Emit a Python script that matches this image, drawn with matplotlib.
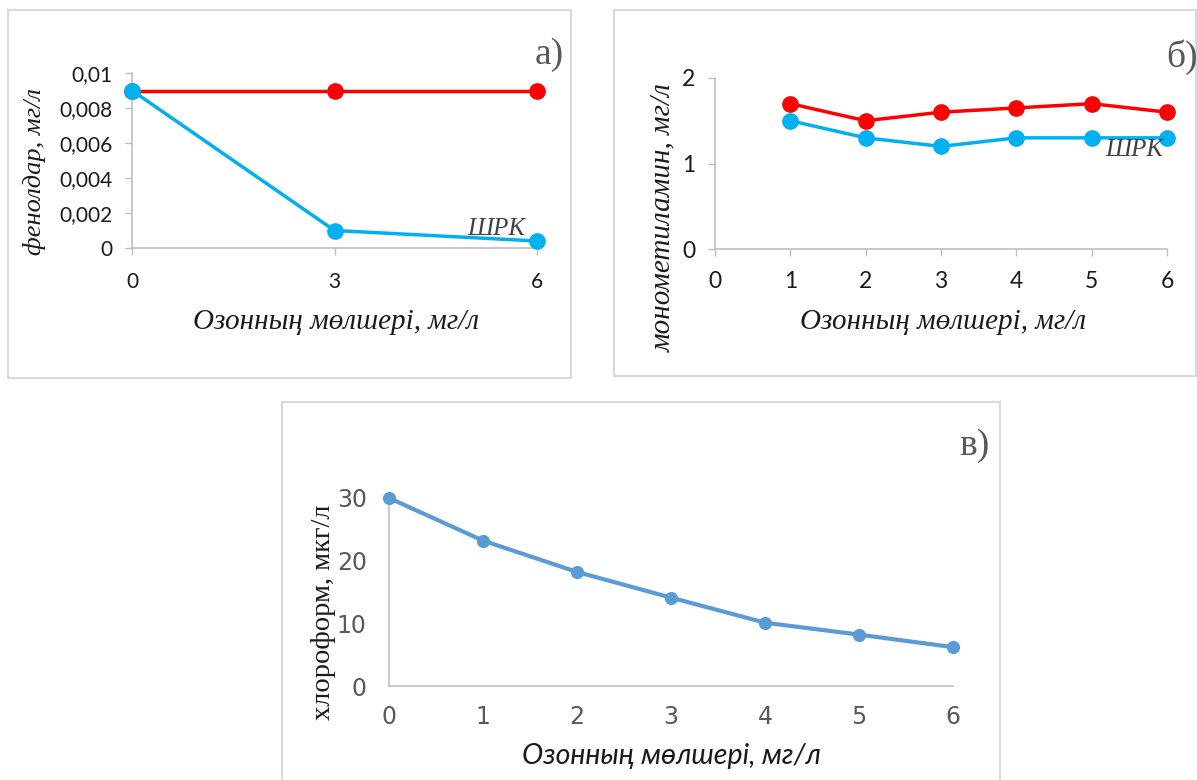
import matplotlib
matplotlib.use("Agg")
import matplotlib.pyplot as plt
from matplotlib.patches import Rectangle

W, H = 1197, 780

# panel a) - phenols
x_a = [0, 3, 6]
shrk_a = [0.009, 0.009, 0.009]
phenol = [0.009, 0.001, 0.0004]
yticks_a = [0, 0.002, 0.004, 0.006, 0.008, 0.01]
ylabels_a = ["0", "0,002", "0,004", "0,006", "0,008", "0,01"]

# panel б) - monomethylamine
x_b = [1, 2, 3, 4, 5, 6]
shrk_b = [1.7, 1.5, 1.6, 1.65, 1.7, 1.6]
mma = [1.5, 1.3, 1.2, 1.3, 1.3, 1.3]

# panel в) - chloroform
x_c = [0, 1, 2, 3, 4, 5, 6]
chloroform = [30, 23.2, 18.2, 14.1, 10.1, 8.2, 6.2]

RED = "#FF0000"
BLUE = "#00B0F0"
STEEL = "#5B9BD5"
AXIS = "#BFBFBF"
FRAME = "#D9D9D9"
SERIF = ["Liberation Serif", "DejaVu Serif"]
SANS = ["Lato", "DejaVu Sans"]


def fx(px):
    return px / W


def fy(py):
    return 1 - py / H


def box(left, top, right, bottom):
    return [fx(left), fy(bottom), fx(right) - fx(left), fy(top) - fy(bottom)]


def style(ax, color, size):
    for s in ["top", "right"]:
        ax.spines[s].set_visible(False)
    for s in ["left", "bottom"]:
        ax.spines[s].set_color(AXIS)
        ax.spines[s].set_linewidth(1.2)
    ax.tick_params(colors=AXIS, labelcolor=color, length=5, width=1.0)
    for t in ax.get_xticklabels() + ax.get_yticklabels():
        t.set_family(SANS)
        t.set_fontsize(size)
    ax.patch.set_alpha(0)


fig = plt.figure(figsize=(W / 100, H / 100), dpi=100)

# frames
for l, t, r, b in [(8, 10, 571, 378), (614, 10, 1196, 376), (282, 402, 1000, 782)]:
    fig.patches.append(Rectangle((fx(l), fy(b)), fx(r) - fx(l), fy(t) - fy(b),
                                 transform=fig.transFigure, fill=False,
                                 edgecolor=FRAME, linewidth=1.5))

# a)
ax = fig.add_axes(box(132, 73, 537, 248))
ax.plot(x_a, shrk_a, color=RED, lw=2.5, marker="o", ms=11, clip_on=False, zorder=3)
ax.plot(x_a, phenol, color=BLUE, lw=2.5, marker="o", ms=11, clip_on=False, zorder=4)
ax.set_xlim(0, 6)
ax.set_ylim(0, 0.01)
ax.set_xticks([0, 3, 6])
ax.set_yticks(yticks_a)
ax.set_yticklabels(ylabels_a)
style(ax, "#1A1A1A", 15)
ax.tick_params(axis="x", pad=12)
ax.tick_params(axis="y", pad=9)
fig.text(fx(496), fy(229), "ШРК", family=SERIF, style="italic", fontsize=18,
         color="#404040", ha="center", va="center")
fig.text(fx(549), fy(55), "а)", family=SERIF, fontsize=27, color="#595959",
         ha="center", va="center")
fig.text(fx(35), fy(172), "фенолдар, мг/л", family=SERIF, style="italic",
         fontsize=19, rotation=90, ha="center", va="center", color="#1A1A1A")
fig.text(fx(336), fy(322), "Озонның мөлшері, мг/л", family=SERIF, style="italic",
         fontsize=21, ha="center", va="center", color="#1A1A1A")

# б)
ax = fig.add_axes(box(715, 78, 1167, 249))
ax.plot(x_b, shrk_b, color=RED, lw=2.5, marker="o", ms=11, clip_on=False, zorder=3)
ax.plot(x_b, mma, color=BLUE, lw=2.5, marker="o", ms=11, clip_on=False, zorder=4)
ax.set_xlim(0, 6)
ax.set_ylim(0, 2)
ax.set_xticks(range(7))
ax.set_yticks([0, 1, 2])
style(ax, "#1A1A1A", 16.5)
ax.tick_params(axis="x", pad=11)
ax.tick_params(axis="y", pad=9)
fig.text(fx(1134), fy(150), "ШРК", family=SERIF, style="italic", fontsize=18,
         color="#404040", ha="center", va="center")
fig.text(fx(1182), fy(57), "б)", family=SERIF, fontsize=27, color="#595959",
         ha="center", va="center")
fig.text(fx(663), fy(218), "монометиламин, мг/л", family=SERIF, style="italic",
         fontsize=21, rotation=90, ha="center", va="center", color="#1A1A1A")
fig.text(fx(943), fy(322), "Озонның мөлшері, мг/л", family=SERIF, style="italic",
         fontsize=21, ha="center", va="center", color="#1A1A1A")

# в)
ax = fig.add_axes(box(389, 498, 953, 686))
ax.plot(x_c, chloroform, color=STEEL, lw=3, marker="o", ms=8.5, clip_on=False, zorder=3)
ax.set_xlim(0, 6)
ax.set_ylim(0, 30)
ax.set_xticks(x_c)
ax.set_yticks([0, 10, 20, 30])
style(ax, "#595959", 17)
ax.tick_params(length=0)
ax.tick_params(axis="x", pad=14)
ax.tick_params(axis="y", pad=16)
for t in ax.get_xticklabels() + ax.get_yticklabels():
    t.set_family(["Liberation Sans Narrow", "DejaVu Sans"])
fig.text(fx(974), fy(446), "в)", family=SERIF, fontsize=27, color="#595959",
         ha="center", va="center")
fig.text(fx(324), fy(612), "хлороформ, мкг/л", family=SERIF,
         fontsize=20.5, rotation=90, ha="center", va="center", color="#1A1A1A")
fig.text(fx(671), fy(756), "Озонның мөлшері, мг/л", family=SANS,
         style="italic", fontsize=20.5, ha="center", va="center", color="#1A1A1A")

fig.savefig("out.png", dpi=100)
